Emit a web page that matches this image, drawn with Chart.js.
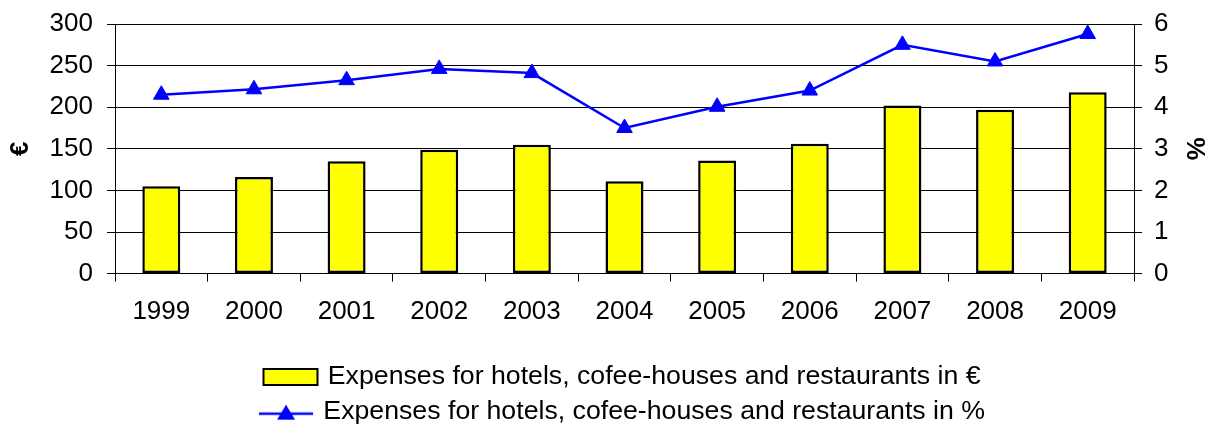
<!DOCTYPE html>
<html>
<head>
<meta charset="utf-8">
<script src="https://cdn.jsdelivr.net/npm/chart.js@4"></script>
<style>
  html, body { margin: 0; padding: 0; background: #fff; overflow: hidden; }
  #wrap { width: 1207px; height: 427px; position: relative; }
</style>
</head>
<body>
<div id="wrap"><canvas id="chart"></canvas></div>
<script>
const years = ['1999', '2000', '2001', '2002', '2003', '2004', '2005', '2006', '2007', '2008', '2009'];
const expensesEuro = [105, 116, 135, 149, 155, 111, 136, 156, 202, 197, 218];
const expensesPercent = [4.30, 4.43, 4.65, 4.92, 4.82, 3.50, 4.01, 4.40, 5.50, 5.10, 5.76];
const euroTicks = [0, 50, 100, 150, 200, 250, 300];
const percentTicks = [0, 1, 2, 3, 4, 5, 6];

const seriesLabels = [
  'Expenses for hotels, cofee-houses and restaurants in €',
  'Expenses for hotels, cofee-houses and restaurants in %'
];

Chart.defaults.font.family = '"Liberation Sans", Arial, sans-serif';
Chart.defaults.font.size = 26;
Chart.defaults.color = '#000';

// legend swatches: outlined yellow box and a line with a triangle marker
function makeSwatch(draw) {
  const c = document.createElement('canvas');
  c.width = 58;
  c.height = 20;
  draw(c.getContext('2d'));
  return c;
}

const barSwatch = makeSwatch(ctx => {
  ctx.fillStyle = '#ffff00';
  ctx.fillRect(2, 2, 54, 16);
  ctx.strokeStyle = '#000';
  ctx.lineWidth = 2;
  ctx.strokeRect(2, 2, 54, 16);
});

const lineSwatch = makeSwatch(ctx => {
  ctx.strokeStyle = '#0000ff';
  ctx.lineWidth = 2.5;
  ctx.beginPath();
  ctx.moveTo(2, 12);
  ctx.lineTo(56, 12);
  ctx.stroke();
  ctx.fillStyle = '#0000ff';
  ctx.beginPath();
  ctx.moveTo(29, 3);
  ctx.lineTo(38, 18);
  ctx.lineTo(20, 18);
  ctx.closePath();
  ctx.fill();
});

// nudge the centred legend rows a little to the right
const legendShift = {
  id: 'legendShift',
  afterLayout(chart) {
    chart.legend.left += 40;
  }
};

// value axes: fixed width, no extra room reserved for the end labels
function fixValueAxis(width) {
  return scale => {
    scale.width = width;
    scale.paddingTop = 0;
    scale.paddingBottom = 0;
  };
}

new Chart(document.getElementById('chart'), {
  type: 'bar',
  data: {
    labels: years,
    datasets: [
      {
        type: 'bar',
        label: seriesLabels[0],
        data: expensesEuro,
        yAxisID: 'y',
        backgroundColor: '#ffff00',
        borderColor: '#000',
        borderWidth: 2.5,
        borderSkipped: false,
        barPercentage: 0.41,
        categoryPercentage: 1
      },
      {
        type: 'line',
        label: seriesLabels[1],
        data: expensesPercent,
        yAxisID: 'y1',
        borderColor: '#0000ff',
        backgroundColor: '#0000ff',
        borderWidth: 2.5,
        pointStyle: 'triangle',
        pointRadius: 9,
        pointBorderWidth: 1,
        tension: 0
      }
    ]
  },
  options: {
    responsive: true,
    maintainAspectRatio: false,
    animation: false,
    layout: {
      padding: { top: 24, left: 0, right: 0, bottom: -8 }
    },
    plugins: {
      tooltip: { enabled: false },
      legend: {
        position: 'bottom',
        labels: {
          usePointStyle: true,
          pointStyleWidth: 48,
          padding: 8,
          font: { size: 26.7 },
          generateLabels(chart) {
            const items = Chart.defaults.plugins.legend.labels.generateLabels(chart);
            items[0].pointStyle = barSwatch;
            items[1].pointStyle = lineSwatch;
            return items;
          }
        }
      }
    },
    scales: {
      x: {
        offset: true,
        grid: {
          offset: true,
          drawOnChartArea: false,
          tickLength: 8,
          color: '#000'
        },
        border: { display: true, color: '#000' },
        ticks: { padding: 15, maxRotation: 0 },
        afterFit(scale) { scale.height = 82; }
      },
      y: {
        position: 'left',
        min: 0,
        max: 300,
        afterBuildTicks(scale) { scale.ticks = euroTicks.map(v => ({ value: v })); },
        grid: { color: '#000', lineWidth: 1, tickLength: 8 },
        border: { display: true, color: '#000' },
        ticks: { padding: 14 },
        title: {
          display: true,
          text: '€',
          font: { weight: 'bold', lineHeight: 1 },
          padding: 8
        },
        afterFit: fixValueAxis(115)
      },
      y1: {
        position: 'right',
        min: 0,
        max: 6,
        afterBuildTicks(scale) { scale.ticks = percentTicks.map(v => ({ value: v })); },
        grid: { drawOnChartArea: false, color: '#000', tickLength: 8 },
        border: { display: true, color: '#000' },
        ticks: { padding: 12 },
        title: {
          display: true,
          text: '%',
          font: { weight: 'bold', lineHeight: 1 },
          padding: 0
        },
        afterFit: fixValueAxis(73)
      }
    }
  },
  plugins: [legendShift]
});
</script>
</body>
</html>
